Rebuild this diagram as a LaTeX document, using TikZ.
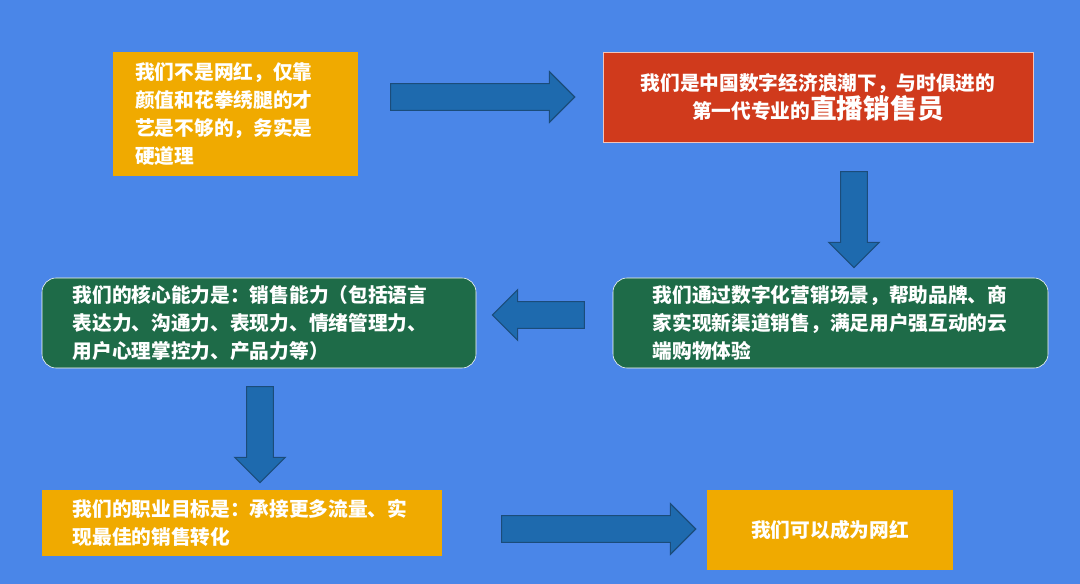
\documentclass[tikz,border=0pt]{standalone}
\usepackage{fontspec}
\setmainfont{Noto Sans CJK SC}
\usetikzlibrary{shapes.arrows}
\definecolor{bgblue}{HTML}{4A86E8}
\definecolor{boxorange}{HTML}{F0AA00}
\definecolor{boxred}{HTML}{D03A1C}
\definecolor{boxgreen}{HTML}{1E6B48}
\definecolor{arrowblue}{HTML}{1E6AAE}
\definecolor{arrowedge}{HTML}{1B4C7A}
\tikzset{
  txt/.style={text=white,font=\bfseries\fontsize{14}{20}\selectfont,align=left,inner sep=0pt},
  bigarrow/.style={single arrow,fill=arrowblue,draw=arrowedge,thick,
    single arrow head extend=0.3cm,inner sep=0.32cm,minimum width=0.1cm}
}
\begin{document}
\begin{tikzpicture}[x=0.025cm,y=-0.025cm]
        % background
        \fill[bgblue] (0,0) rectangle (1080,584);
        \useasboundingbox (0,0) rectangle (1080,584);

        % boxes
        \fill[boxorange] (113,52) rectangle (358,176);
        \node[txt,anchor=west] (rest) at (135,114) {我们不是网红，仅靠\\颜值和花拳绣腿的才\\艺是不够的，务实是\\硬道理};

        \fill[boxred,draw=white!70!boxred] (603,52) rectangle (1033,142);
        \node[txt,align=center] (seller) at (818,97) {我们是中国数字经济浪潮下，与时俱进的\\第一代专业的{\fontsize{19}{22}\selectfont 直播销售员}};

        \fill[boxgreen,draw=white,rounded corners=10pt] (613,278) rectangle (1048,368);
        \node[txt] (scene) at (830,323) {我们通过数字化营销场景，帮助品牌、商\\家实现新渠道销售，满足用户强互动的云\\端购物体验};

        \fill[boxgreen,draw=white,rounded corners=10pt] (42,278) rectangle (476,368);
        \node[txt] (core) at (250,323) {我们的核心能力是：销售能力（包括语言\\表达力、沟通力、表现力、情绪管理力、\\用户心理掌控力、产品力等）};

        \fill[boxorange] (42,490) rectangle (442,556);
        \node[txt] (goal) at (240,523) {我们的职业目标是：承接更多流量、实\\现最佳的销售转化};

        \fill[boxorange] (707,490) rectangle (953,570);
        \node[txt] (star) at (830,530) {我们可以成为网红};

        % arrows
        \node[bigarrow,minimum height=4.6cm] (a1) at (476,97) {};
        \node[bigarrow,minimum height=2.4cm,shape border rotate=270] (a2) at (854,213) {};
        \node[bigarrow,minimum height=2.3cm,shape border rotate=180] (a3) at (545,315) {};
        \node[bigarrow,minimum height=2.4cm,shape border rotate=270] (a4) at (260,428) {};
        \node[bigarrow,minimum height=4.85cm] (a5) at (592,529) {};
\end{tikzpicture}
\end{document}
